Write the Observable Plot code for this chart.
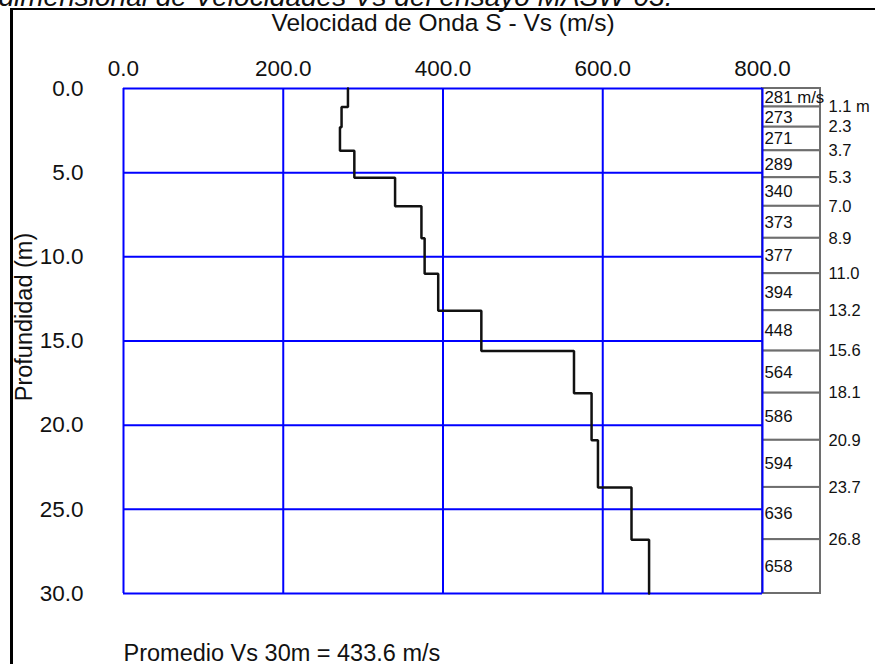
<!DOCTYPE html>
<html>
<head>
<meta charset="utf-8">
<script src="https://cdn.jsdelivr.net/npm/d3@7"></script>
<script src="https://cdn.jsdelivr.net/npm/@observablehq/plot@0.6"></script>
<style>
  html, body { margin: 0; padding: 0; background: #fff; overflow: hidden; }
  #wrap { position: relative; width: 875px; height: 664px; overflow: hidden; }
  #frame { position: absolute; left: 10px; top: 8px; width: 900px; height: 700px;
           border-left: 3px solid #000; border-top: 2.5px solid #000; pointer-events: none; }
  #chart { position: absolute; left: 0; top: 0; }
</style>
</head>
<body>
<div id="wrap">
  <div id="frame"></div>
  <div id="chart"></div>
</div>
<script>
// ---- data ----
const boundaries = [0, 1.1, 2.3, 3.7, 5.3, 7.0, 8.9, 11.0, 13.2, 15.6, 18.1, 20.9, 23.7, 26.8, 30.0];
const vs = [281, 273, 271, 289, 340, 373, 377, 394, 448, 564, 586, 594, 636, 658];
const vsLabels = ["281 m/s", "273", "271", "289", "340", "373", "377", "394", "448", "564", "586", "594", "636", "658"];
const depthLabels = ["1.1 m", "2.3", "3.7", "5.3", "7.0", "8.9", "11.0", "13.2", "15.6", "18.1", "20.9", "23.7", "26.8"];
const xTicks = [0, 200, 400, 600, 800];
const yTicks = [0, 5, 10, 15, 20, 25, 30];
const chartTitle = "dimensional de Velocidades Vs del ensayo MASW-03.";
const xLabel = "Velocidad de Onda S - Vs (m/s)";
const yLabel = "Profundidad (m)";
const avgText = "Promedio Vs 30m = 433.6 m/s";

// ---- derived tables ----
const layers = vs.map((v, i) => ({v, top: boundaries[i], bottom: boundaries[i + 1], label: vsLabels[i]}));
const profile = layers.flatMap(d => [{v: d.v, z: d.top}, {v: d.v, z: d.bottom}]);
const depthMarks = depthLabels.map((t, i) => ({z: boundaries[i + 1], label: t}));
const xMax = d3.max(xTicks);
const font = "'Liberation Sans', Arial, Helvetica, sans-serif";

const chart = Plot.plot({
  width: 875,
  height: 664,
  marginLeft: 123,
  marginRight: 113,
  marginTop: 88,
  marginBottom: 71,
  style: {fontFamily: font, fontSize: "22px", color: "#111", background: "transparent", overflow: "visible"},
  x: {domain: [0, xMax], ticks: xTicks},
  y: {domain: [0, 30], reverse: true, ticks: yTicks},
  marks: [
    // side table of layer velocities
    Plot.rect(layers, {x1: xMax, x2: xMax, insetRight: -58, y1: "top", y2: "bottom",
      fill: "white", stroke: "#6e6e6e", strokeWidth: 2}),
    Plot.gridX(xTicks, {stroke: "#0000ff", strokeOpacity: 1, strokeWidth: 2}),
    Plot.gridY(yTicks, {stroke: "#0000ff", strokeOpacity: 1, strokeWidth: 2}),
    Plot.line(profile, {x: "v", y: "z", stroke: "#111", strokeWidth: 2.5, strokeLinejoin: "miter"}),
    Plot.text(layers, {x: xMax, y: d => (d.top + d.bottom) / 2, text: "label", dx: 2,
      textAnchor: "start", fontSize: 16.8, fill: "#111"}),
    Plot.text(depthMarks, {x: xMax, y: "z", text: "label", dx: 66,
      textAnchor: "start", fontSize: 16.5, fill: "#111"}),
    Plot.axisX({anchor: "top", ticks: xTicks, tickFormat: d => d.toFixed(1), tickSize: 0,
      tickPadding: 13, fontSize: 22.5, label: null}),
    Plot.axisY({anchor: "left", ticks: yTicks, tickFormat: d => d.toFixed(1), tickSize: 0,
      tickPadding: 40, fontSize: 22.5, label: null}),
    Plot.text([xLabel], {frameAnchor: "top", dy: -58, lineAnchor: "bottom", fontSize: 24.5, fill: "#111"}),
    Plot.text([yLabel], {frameAnchor: "left", textAnchor: "middle", rotate: -90, dx: -99, dy: -24,
      fontSize: 23.5, fill: "#111"}),
    Plot.text([avgText], {frameAnchor: "bottom-left", textAnchor: "start", lineAnchor: "bottom",
      dy: 67, fontSize: 23.5, fill: "#111"}),
    Plot.text([chartTitle], {frameAnchor: "top-left", textAnchor: "start", lineAnchor: "bottom",
      dx: -125, dy: -83, fontSize: 28, fontStyle: "italic", fill: "#111"})
  ]
});
document.getElementById("chart").appendChild(chart);
</script>
</body>
</html>
